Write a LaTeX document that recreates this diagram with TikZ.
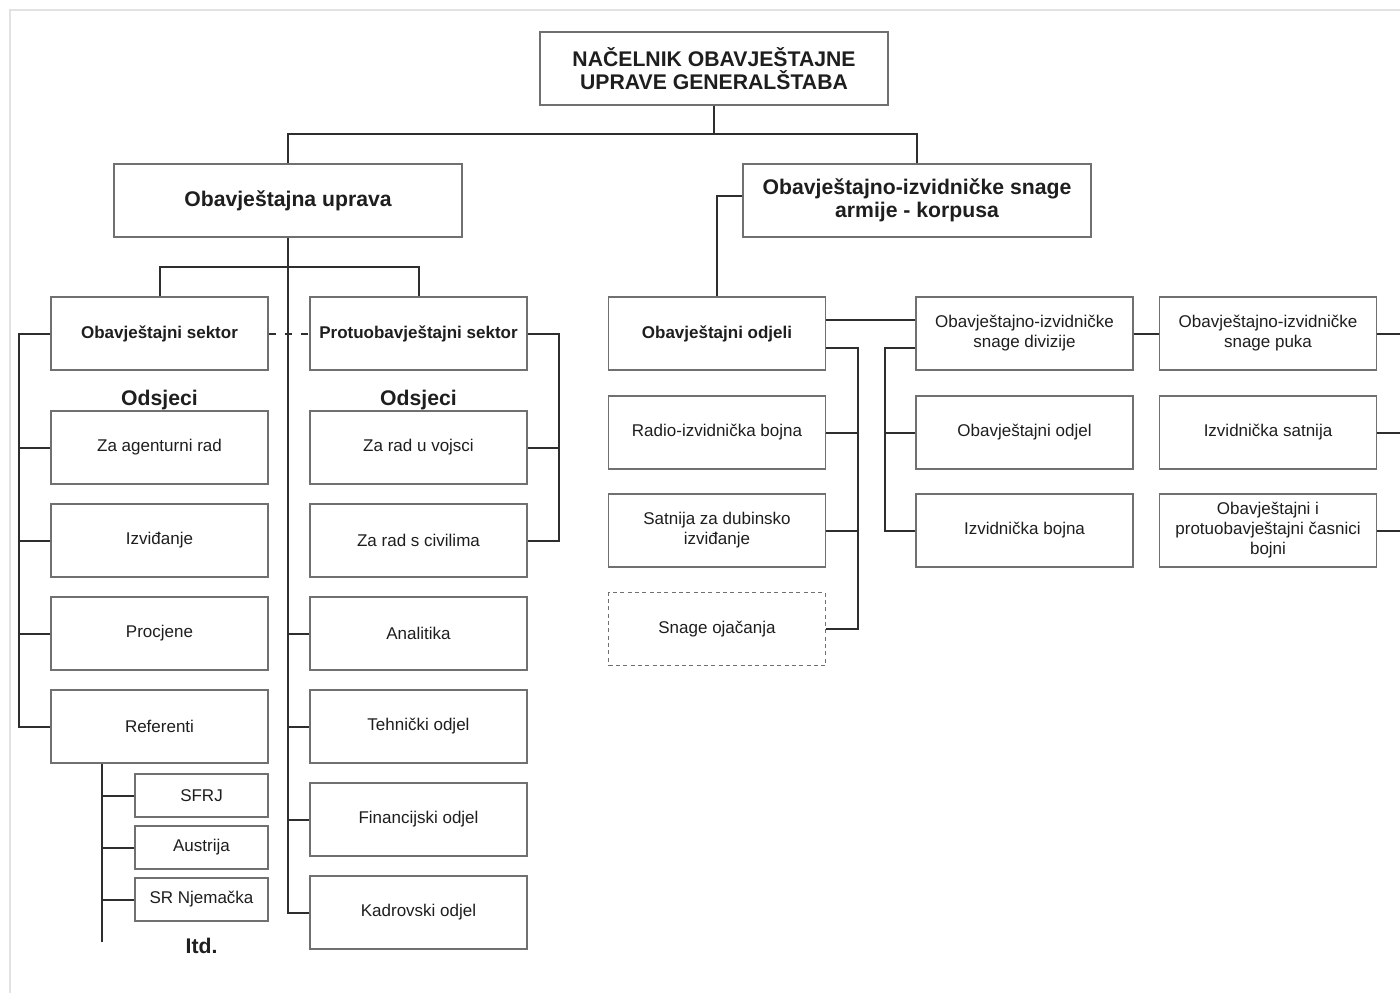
\documentclass[tikz,border=0pt]{standalone}
\usepackage{fontspec}
\setmainfont{Liberation Sans}
\definecolor{boxc}{HTML}{707070}
\definecolor{linec}{HTML}{2E2E2E}
\definecolor{txtc}{HTML}{1E1E1E}
\definecolor{framec}{HTML}{E2E2E2}
\tikzset{
  base/.style={draw=boxc, line width=1.1pt, fill=white, align=center, text=txtc, inner sep=1pt,
    font=\fontsize{12.75}{15}\selectfont},
  stdbox/.style={base, minimum width=162.75pt, minimum height=54.75pt},
  bigbox/.style={base, minimum width=261pt, minimum height=54.75pt, font=\fontsize{15.9}{17.6}\selectfont\bfseries},
  smallbox/.style={base, minimum width=99.75pt, minimum height=32.25pt},
  boldtxt/.style={font=\fontsize{12.75}{15}\selectfont\bfseries},
  conn/.style={draw=linec, line width=1.5pt},
  lbl/.style={text=txtc, font=\fontsize{15.9}{17.6}\selectfont\bfseries, inner sep=0pt}
}
\begin{document}
\begin{tikzpicture}[x=0.75pt, y=-0.75pt]
\useasboundingbox (0,0) rectangle (1400,993);
\fill[white] (0,0) rectangle (1400,993);
\draw[framec, line width=1pt] (10,993) -- (10,10) -- (1400,10);

% top level
\node[bigbox] (top) at (714,68.5) {NAČELNIK OBAVJEŠTAJNE\\UPRAVE GENERALŠTABA};
\node[bigbox] (ou) at (288,200.5) {Obavještajna uprava};
\node[bigbox] (oisa) at (917,200.5) {Obavještajno-izvidničke snage\\armije - korpusa};

% left sectors
\node[stdbox, boldtxt] (os) at (159.5,333.5) {Obavještajni sektor};
\node[stdbox, boldtxt] (ps) at (418.5,333.5) {Protuobavještajni sektor};
\node[lbl] (ods1) at (159.5,400) {Odsjeci};
\node[lbl] (ods2) at (418.5,400) {Odsjeci};

\node[stdbox] (agent) at (159.5,447.5) {Za agenturni rad};
\node[stdbox] (izvid) at (159.5,540.5) {Izviđanje};
\node[stdbox] (procj) at (159.5,633.5) {Procjene};
\node[stdbox] (refe) at (159.5,726.5) {Referenti};

\node[smallbox] (sfrj) at (201.5,795.5) {SFRJ};
\node[smallbox] (aust) at (201.5,847.5) {Austrija};
\node[smallbox] (srnj) at (201.5,899.5) {SR Njemačka};
\node[lbl] (itd) at (201.5,946) {Itd.};

\node[stdbox] (vojs) at (418.5,447.5) {Za rad u vojsci};
\node[stdbox] (civil) at (418.5,540.5) {Za rad s civilima};
\node[stdbox] (anal) at (418.5,633.5) {Analitika};
\node[stdbox] (tehn) at (418.5,726.5) {Tehnički odjel};
\node[stdbox] (fin) at (418.5,819.5) {Financijski odjel};
\node[stdbox] (kadr) at (418.5,912.5) {Kadrovski odjel};

% right side
\node[stdbox, boldtxt] (odjeli) at (717,333.5) {Obavještajni odjeli};
\node[stdbox] (radio) at (717,432.5) {Radio-izvidnička bojna};
\node[stdbox] (satn) at (717,530.5) {Satnija za dubinsko\\izviđanje};
\node[stdbox, dashed, dash pattern=on 3pt off 2.5pt, line width=0.9pt] (ojac) at (717,629) {Snage ojačanja};

\node[stdbox] (div) at (1024.5,333.5) {Obavještajno-izvidničke\\snage divizije};
\node[stdbox] (obod) at (1024.5,432.5) {Obavještajni odjel};
\node[stdbox] (izbo) at (1024.5,530.5) {Izvidnička bojna};

\node[stdbox] (puka) at (1268,333.5) {Obavještajno-izvidničke\\snage puka};
\node[stdbox] (izsa) at (1268,432.5) {Izvidnička satnija};
\node[stdbox] (casn) at (1268,530.5) {Obavještajni i\\protuobavještajni časnici\\bojni};

% helper coordinates
\coordinate (j1) at (714,134);
\coordinate (j2) at (288,267);
\coordinate (lb) at (19,0);
\coordinate (rb) at (559,0);
\coordinate (rf) at (102,942);
\coordinate (rb2) at (858,0);
\coordinate (db) at (885,0);
\coordinate (oc) at (717,196);
\coordinate (re) at (1400,0);

% connectors top
\draw[conn] (top.south) -- (j1);
\draw[conn] (ou.north) |- (j1) -| (oisa.north);

% left block
\draw[conn] (ou.south) |- (kadr.west);
\draw[conn] (os.north) |- (j2) -| (ps.north);
\draw[conn] (anal.west) -- (anal.west -| ou.south);
\draw[conn] (tehn.west) -- (tehn.west -| ou.south);
\draw[conn] (fin.west) -- (fin.west -| ou.south);
\draw[conn, dash pattern=on 5.5pt off 6.5pt] (os.east) -- (ps.west);

\draw[conn] (os.west) -| (lb |- refe.west) -- (refe.west);
\draw[conn] (agent.west) -- (agent.west -| lb);
\draw[conn] (izvid.west) -- (izvid.west -| lb);
\draw[conn] (procj.west) -- (procj.west -| lb);

\draw[conn] (ps.east) -| (rb |- civil.east) -- (civil.east);
\draw[conn] (vojs.east) -- (vojs.east -| rb);

\draw[conn] (refe.south -| rf) -- (rf);
\draw[conn] (sfrj.west) -- (sfrj.west -| rf);
\draw[conn] (aust.west) -- (aust.west -| rf);
\draw[conn] (srnj.west) -- (srnj.west -| rf);

% right block
\draw[conn] (oc -| oisa.west) -- (oc) -- (odjeli.north);
\draw[conn] ([yshift=10.1pt]odjeli.east) -- ([yshift=10.1pt]div.west);
\draw[conn] ([yshift=-10.9pt]odjeli.east) -| (rb2 |- ojac.east) -- (ojac.east);
\draw[conn] (radio.east) -- (radio.east -| rb2);
\draw[conn] (satn.east) -- (satn.east -| rb2);

\draw[conn] ([yshift=-10.9pt]div.west) -| (db |- izbo.west) -- (izbo.west);
\draw[conn] (obod.west) -- (obod.west -| db);
\draw[conn] (div.east) -- (puka.west);

\draw[conn] (puka.east) -- (puka.east -| re);
\draw[conn] (izsa.east) -- (izsa.east -| re);
\draw[conn] (casn.east) -- (casn.east -| re);
\end{tikzpicture}
\end{document}
